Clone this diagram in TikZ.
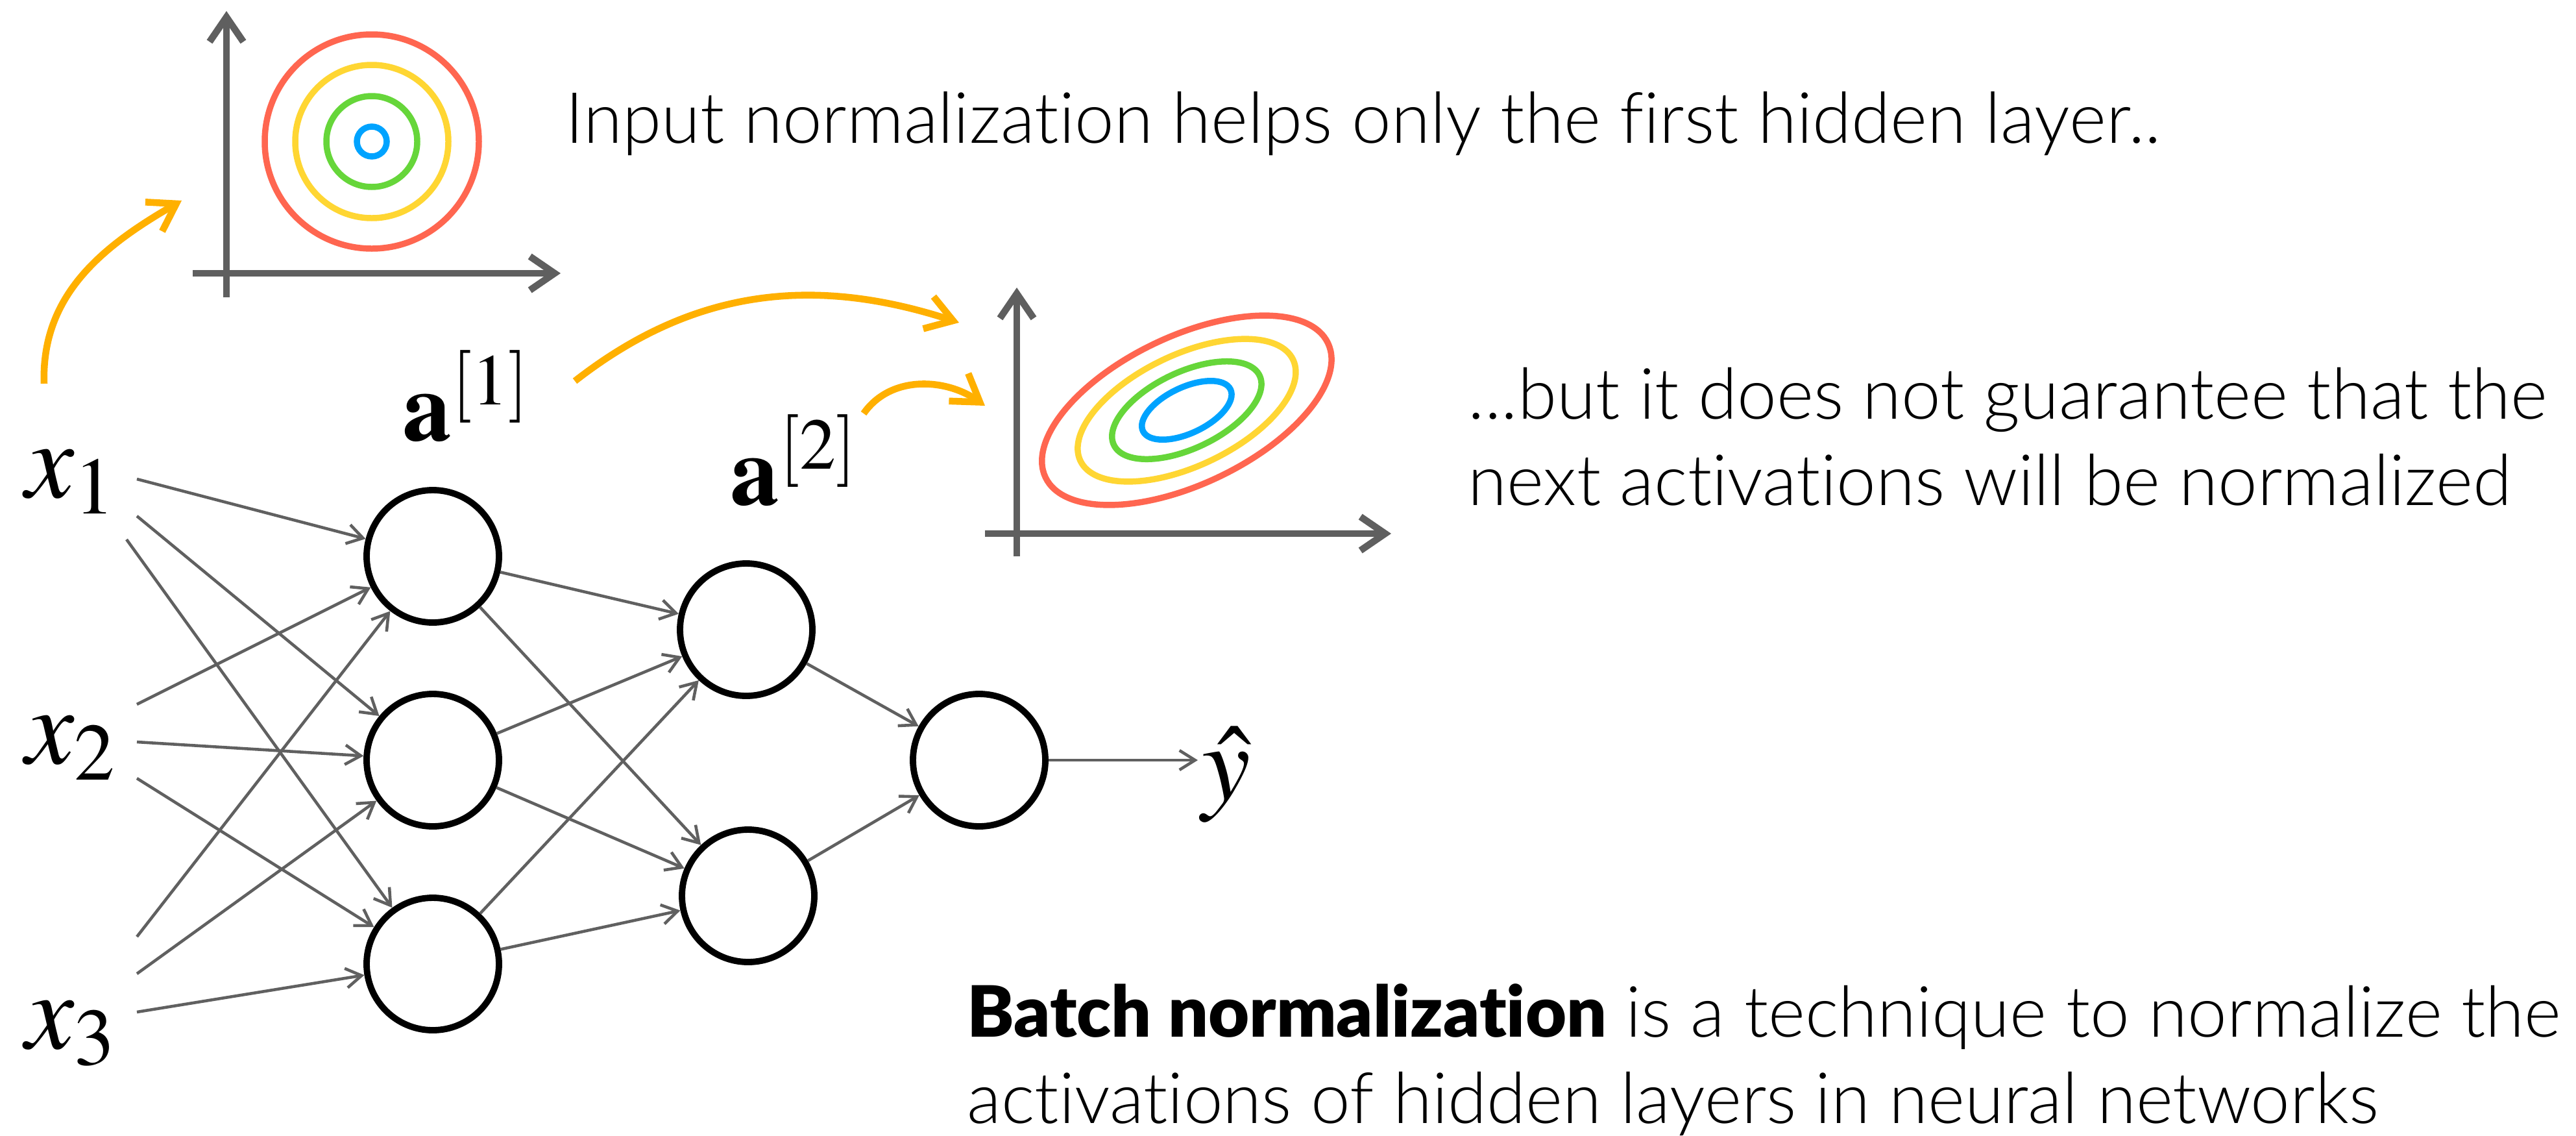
\documentclass[tikz,border=0pt]{standalone}
\usepackage{mathptmx}
\usepackage[no-math]{fontspec}
\setmainfont{Lato}[UprightFont=* Light, BoldFont=* Black, Ligatures=NoCommon]
\usetikzlibrary{arrows.meta}
\definecolor{axisgray}{HTML}{5F5F5F}
\definecolor{edgegray}{HTML}{606060}
\definecolor{amber}{HTML}{FFB000}
\definecolor{ringred}{HTML}{FF6650}
\definecolor{ringyellow}{HTML}{FFD633}
\definecolor{ringgreen}{HTML}{66D63A}
\definecolor{ringblue}{HTML}{00A3FF}

\begin{document}
\begin{tikzpicture}[
        neuron/.style={circle, draw, line width=2.8pt, minimum size=2.04cm, inner sep=0pt},
        wire/.style={draw=edgegray, line width=1.3pt, -{Straight Barb[length=0.24cm, width=0.3cm]}},
        axis/.style={draw=axisgray, line width=3pt, -{Straight Barb[length=0.38cm, width=0.52cm]}},
        hint/.style={draw=amber, line width=3pt, -{Straight Barb[length=0.4cm, width=0.52cm]}},
        ring/.style={line width=2.7pt},
        mathlbl/.style={inner sep=0pt, anchor=base west, font=\fontsize{48}{50}\selectfont},
        actlbl/.style={inner sep=0pt, anchor=base west, font=\fontsize{43}{45}\selectfont},
        note/.style={inner sep=0pt, anchor=base west, align=left, font=\fontsize{31}{37.8}\selectfont}
    ]
        \useasboundingbox (0,0) rectangle (39.70,-17.49);

        % Input plot
        \begin{scope}
            \draw[axis] (2.97,-4.21) -- (8.64,-4.21);
            \draw[axis] (3.49,-4.58) -- (3.49,-0.17);
            \coordinate (c1) at (5.73,-2.18);
            \foreach \r/\col in {1.65/ringred, 1.18/ringyellow, 0.70/ringgreen, 0.23/ringblue} {
                \draw[ring, \col] (c1) circle (\r);
            }
        \end{scope}

        % Hidden plot
        \begin{scope}
            \draw[axis] (15.18,-8.22) -- (21.44,-8.22);
            \draw[axis] (15.67,-8.57) -- (15.67,-4.43);
            \coordinate (c2) at (18.29,-6.32);
            \foreach \s/\col in {1/ringred, 0.753/ringyellow, 0.516/ringgreen, 0.31/ringblue} {
                \draw[ring, \col, rotate around={25.4:(c2)}] (c2) ellipse [x radius=2.41*\s, y radius=1.14*\s];
            }
        \end{scope}

        % Network
        \node[neuron] (h1) at (6.67,-8.57) {};
        \node[neuron] (h2) at (6.67,-11.71) {};
        \node[neuron] (h3) at (6.67,-14.85) {};
        \node[neuron] (g1) at (11.50,-9.70) {};
        \node[neuron] (g2) at (11.53,-13.80) {};
        \node[neuron] (out) at (15.09,-11.71) {};

        \node[mathlbl] (x1) at (0.39,-7.66) {$x_1$};
        \node[mathlbl] (x2) at (0.39,-11.76) {$x_2$};
        \node[mathlbl] (x3) at (0.39,-16.15) {$x_3$};
        \node[actlbl] (a1) at (6.20,-6.78) {$\mathbf{a}^{[1]}$};
        \node[actlbl] (a2) at (11.25,-7.77) {$\mathbf{a}^{[2]}$};
        \node[mathlbl] (yhat) at (18.52,-12.32) {$\hat{y}$};

        \foreach \i/\j/\x/\y in {1/1/2.11/7.38, 1/2/2.11/7.95, 1/3/1.95/8.31,
                2/1/2.11/10.85, 2/2/2.11/11.43, 2/3/2.11/11.99,
                3/1/2.11/14.43, 3/2/2.11/15.00, 3/3/2.11/15.59} {
            \coordinate (s\i\j) at (\x,-\y);
            \draw[wire] (s\i\j) -- (h\j);
        }
        \foreach \j in {1,2,3} {
            \foreach \k in {1,2} {
                \draw[wire] (h\j) -- (g\k);
            }
        }
        \foreach \k in {1,2} {
            \draw[wire] (g\k) -- (out);
        }
        \draw[wire] (out) -- ([xshift=-0.06cm]out -| yhat.west);

        % Orange hints
        \coordinate (pA) at (0.68,-5.91);
        \coordinate (qA) at (2.80,-3.09);
        \coordinate (pB) at (8.86,-5.87);
        \coordinate (qB) at (14.78,-4.97);
        \coordinate (pC) at (13.31,-6.37);
        \coordinate (qC) at (15.18,-6.25);
        \draw[hint] (pA) to[out=92, in=-150] (qA);
        \draw[hint] (pB) to[out=38, in=162] (qB);
        \draw[hint] (pC) to[out=55, in=145] (qC);

        % Notes
        \node[note] (t1) at (8.71,-2.20) {Input normalization helps only the first hidden layer..};
        \node[note] (t2) at (22.62,-7.78) {...but it does not guarantee that the\\next activations will be normalized};
        \node[note] (t3) at (14.90,-17.30) {\textbf{Batch normalization} is a technique to normalize the\\activations of hidden layers in neural networks};
    \end{tikzpicture}
\end{document}
